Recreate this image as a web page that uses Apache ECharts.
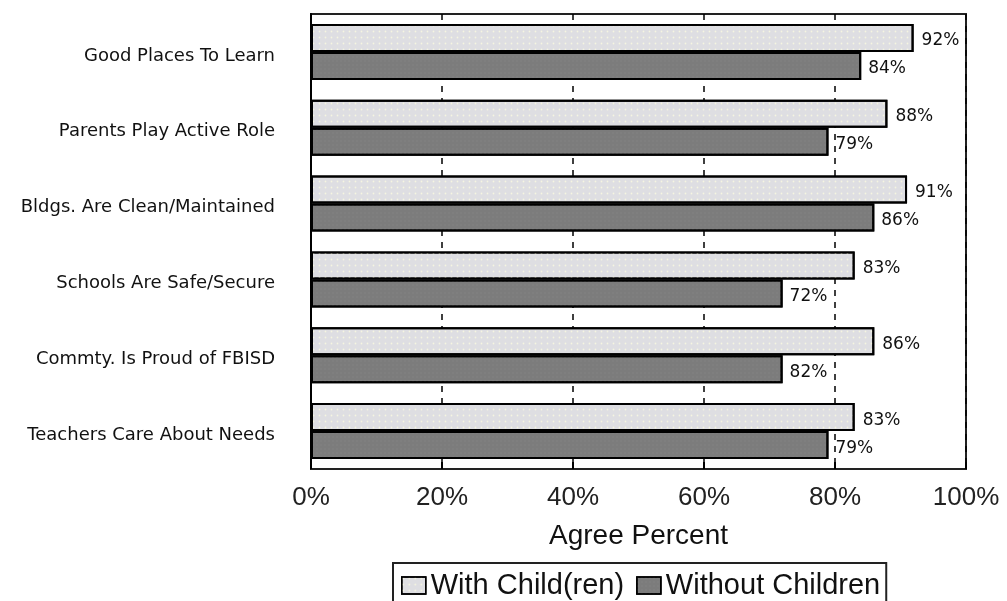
<!DOCTYPE html>
<html>
<head>
<meta charset="utf-8">
<script src="https://cdn.jsdelivr.net/npm/echarts@6/dist/echarts.min.js"></script>
<style>html,body{margin:0;padding:0;background:#fff;}#c{width:1007px;height:601px;}</style>
</head>
<body>
<div id="c"></div>
<script>
const categories = ['Good Places To Learn','Parents Play Active Role','Bldgs. Are Clean/Maintained','Schools Are Safe/Secure','Commty. Is Proud of FBISD','Teachers Care About Needs'];
const withChild = [92, 88, 91, 83, 86, 83];
const withoutChildren = [84, 79, 86, 72, 72, 79];
const withChildLabels = ['92%','88%','91%','83%','86%','83%'];
const withoutChildrenLabels = ['84%','79%','86%','72%','82%','79%'];
const seriesNames = ['With Child(ren)','Without Children'];
const xTicks = [0, 20, 40, 60, 80, 100];

const chart = echarts.init(document.getElementById('c'));
chart.setOption({
  animation: false,
  backgroundColor: '#fff',
  grid: {left: 311, top: 14, right: 41, bottom: 132, show: true, borderColor: '#222', borderWidth: 2},
  legend: {
    data: seriesNames,
    left: 393, top: 563,
    orient: 'horizontal',
    icon: 'rect',
    itemWidth: 24, itemHeight: 17, itemGap: 12,
    padding: [8, 6, 12, 8],
    borderColor: '#222', borderWidth: 2,
    textStyle: {fontFamily: 'Liberation Sans, Arial, sans-serif', fontSize: 29, color: '#111'},
    itemStyle: {borderColor: '#000', borderWidth: 1.5}
  },
  xAxis: {
    type: 'value', min: xTicks[0], max: xTicks[xTicks.length-1], interval: 20,
    name: 'Agree Percent', nameLocation: 'middle', nameGap: 53,
    nameTextStyle: {fontFamily: 'Liberation Sans, Arial, sans-serif', fontSize: 28, color: '#111'},
    axisLine: {show: true, lineStyle: {color: '#222', width: 2}},
    axisTick: {show: true, inside: true, length: 7, lineStyle: {color: '#000', width: 2}},
    axisLabel: {formatter: '{value}%', margin: 16, fontFamily: 'Liberation Sans, Arial, sans-serif', fontSize: 26, color: '#222'},
    splitLine: {show: true, lineStyle: {color: '#000', width: 1.5, type: [6, 6]}}
  },
  yAxis: {
    type: 'category', data: categories, inverse: true,
    axisLine: {show: true, lineStyle: {color: '#000', width: 2}},
    axisTick: {show: false},
    axisLabel: {margin: 36, verticalAlign: 'top', lineHeight: 8, fontFamily: 'DejaVu Sans, sans-serif', fontSize: 18, color: '#111'}
  },
  series: [
    {
      name: seriesNames[0], type: 'bar', data: withChild, barWidth: 28, barGap: '0%',
      itemStyle: {color: '#dedee2', borderColor: '#000', borderWidth: 2,
        decal: {symbol: 'circle', symbolSize: 0.6, color: 'rgba(250,250,225,0.8)', dashArrayX: [3, 3], dashArrayY: [3, 3]}},
      label: {show: true, position: 'right', distance: 8, offset: [0, 3], formatter: p => withChildLabels[p.dataIndex],
        fontFamily: 'DejaVu Sans, sans-serif', fontSize: 17, color: '#111'}
    },
    {
      name: seriesNames[1], type: 'bar', data: withoutChildren, barWidth: 28,
      itemStyle: {color: '#7c7c7c', borderColor: '#000', borderWidth: 2,
        decal: {symbol: 'rect', symbolSize: 0.5, color: 'rgba(150,150,150,0.6)', dashArrayX: [2, 2], dashArrayY: [2, 2]}},
      label: {show: true, position: 'right', distance: 7, offset: [0, 3], formatter: p => withoutChildrenLabels[p.dataIndex],
        fontFamily: 'DejaVu Sans, sans-serif', fontSize: 17, color: '#111'}
    }
  ]
});
</script>
</body>
</html>
